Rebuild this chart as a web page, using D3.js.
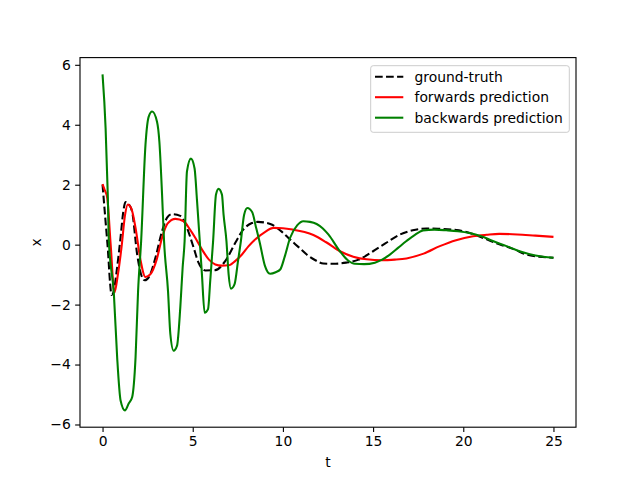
<!DOCTYPE html>
<html>
<head>
<meta charset="utf-8">
<script src="https://cdn.jsdelivr.net/npm/d3@7"></script>
<style>
  body { margin: 0; background: #fff; }
  svg { font-family: "DejaVu Sans", sans-serif; }
</style>
</head>
<body>
<script>
// ground truth
var tTruth = [0, 0.15, 0.3, 0.42, 0.5, 0.6, 0.8, 1.0, 1.15, 1.27, 1.45, 1.64, 1.92, 2.2, 2.34, 2.6, 2.93, 3.3, 3.58, 3.85, 4.31, 4.68, 5.05, 5.32, 5.7, 6.25, 6.8, 7.36, 7.8, 8.28, 8.6, 9.3, 9.9, 10.4, 10.9, 11.32, 11.8, 12.24, 12.8, 13.5, 14.2, 15.0, 15.7, 16.5, 17.2, 17.95, 18.6, 19.4, 20.0, 20.5, 21.2, 22.0, 22.8, 23.5, 24.2, 25]
var xTruth = [2.0, 0.9, -0.2, -1.3, -1.68, -1.6, -0.8, 0.25, 1.1, 1.42, 1.35, 1.1, -0.33, -1.1, -1.19, -1.05, -0.44, 0.45, 0.9, 1.02, 0.96, 0.56, -0.1, -0.6, -0.86, -0.85, -0.55, 0.06, 0.5, 0.72, 0.76, 0.69, 0.45, 0.17, -0.1, -0.33, -0.52, -0.63, -0.64, -0.6, -0.5, -0.22, 0.05, 0.34, 0.48, 0.54, 0.53, 0.5, 0.45, 0.36, 0.2, 0.01, -0.15, -0.33, -0.4, -0.44]

// forwards prediction
var tForward = [0, 0.1, 0.26, 0.45, 0.66, 0.85, 1.05, 1.25, 1.4, 1.6, 1.83, 2.1, 2.38, 2.65, 3.0, 3.3, 3.6, 4.04, 4.5, 4.85, 5.14, 5.5, 5.9, 6.25, 6.6, 6.99, 7.35, 7.73, 8.1, 8.46, 9.0, 9.48, 10.0, 10.58, 11.2, 11.69, 12.4, 13.16, 13.9, 14.64, 15.5, 16.2, 16.85, 17.8, 18.7, 19.6, 20.54, 21.3, 22.0, 23.0, 24.0, 25]
var xForward = [2.02, 1.85, 1.56, 0.0, -1.6, -1.0, -0.1, 1.0, 1.34, 1.2, 0.56, -0.5, -1.08, -0.99, -0.5, 0.23, 0.7, 0.86, 0.78, 0.5, 0.23, -0.15, -0.5, -0.66, -0.7, -0.69, -0.55, -0.33, -0.05, 0.17, 0.42, 0.56, 0.55, 0.5, 0.42, 0.32, 0.08, -0.22, -0.4, -0.49, -0.52, -0.5, -0.46, -0.3, -0.05, 0.15, 0.28, 0.33, 0.36, 0.34, 0.3, 0.26]

// backwards prediction
var tBackward = [0, 0.17, 0.29, 0.35, 0.63, 0.81, 1.0, 1.24, 1.45, 1.64, 1.83, 1.97, 2.14, 2.38, 2.56, 2.75, 3.02, 3.15, 3.3, 3.41, 3.63, 3.76, 3.94, 4.13, 4.31, 4.44, 4.55, 4.68, 4.9, 5.1, 5.24, 5.39, 5.51, 5.66, 5.85, 5.97, 6.13, 6.29, 6.43, 6.62, 6.71, 6.87, 6.99, 7.12, 7.32, 7.51, 7.67, 7.85, 8.03, 8.3, 8.5, 8.73, 9.0, 9.29, 9.6, 9.85, 10.1, 10.4, 10.8, 11.13, 11.5, 11.87, 12.2, 12.52, 13.16, 13.6, 13.99, 14.5, 15.1, 15.5, 15.93, 16.4, 16.85, 17.3, 17.77, 18.4, 19.06, 19.7, 20.35, 21.0, 21.64, 22.4, 23.12, 24.0, 25]
var xBackward = [5.68, 3.88, 1.67, 0.12, -1.66, -3.76, -5.2, -5.53, -5.3, -5.09, -3.76, -1.55, 0.12, 3.33, 4.27, 4.44, 4.1, 3.44, 1.67, 0.12, -1.55, -2.99, -3.54, -3.37, -2.1, -0.77, 0.12, 2.44, 2.87, 2.55, 1.45, 0.12, -0.99, -2.27, -2.15, -1.21, 0.12, 1.67, 1.86, 1.67, 1.0, 0.12, -0.99, -1.47, -1.32, -0.55, 0.12, 1.0, 1.22, 1.08, 0.6, 0.03, -0.7, -0.97, -0.92, -0.83, -0.4, 0.23, 0.65, 0.78, 0.76, 0.69, 0.55, 0.34, -0.22, -0.52, -0.64, -0.65, -0.6, -0.5, -0.33, -0.1, 0.12, 0.32, 0.47, 0.5, 0.48, 0.45, 0.39, 0.28, 0.12, -0.05, -0.22, -0.36, -0.44]

var xTicks = [0, 5, 10, 15, 20, 25]
var yTicks = [-6, -4, -2, 0, 2, 4, 6]
var labels = ['ground-truth', 'forwards prediction', 'backwards prediction']

var W = 640, H = 480
var mLeft = 80, mRight = 576, mTop = 57.6, mBottom = 427.2
var fs = 13.89, lw = 2.08, dash = '7.7,3.33'

var svg = d3.select(document.body).append('svg')
  .attr('width', W).attr('height', H)

var x = d3.scaleLinear().domain([-1.25, 26.25]).range([mLeft, mRight])
var yMin = d3.min(xBackward), yMax = d3.max(xBackward)
var pad = (yMax - yMin) * 0.05
var y = d3.scaleLinear().domain([yMin - pad, yMax + pad]).range([mBottom, mTop])

function series(ts, xs) {
  return ts.map(function(t, i) { return [t, xs[i]]; })
}

var line = d3.line()
  .x(function(d) { return x(d[0]); })
  .y(function(d) { return y(d[1]); })
  .curve(d3.curveMonotoneX)

var clip = svg.append('clipPath').attr('id', 'clip')
clip.append('rect').attr('x', mLeft).attr('y', mTop)
  .attr('width', mRight - mLeft).attr('height', mBottom - mTop)

var plot = svg.append('g').attr('clip-path', 'url(#clip)')

plot.append('path').datum(series(tTruth, xTruth))
  .attr('d', line).attr('fill', 'none')
  .attr('stroke', 'black').attr('stroke-width', lw)
  .attr('stroke-dasharray', dash)

plot.append('path').datum(series(tForward, xForward))
  .attr('d', line).attr('fill', 'none')
  .attr('stroke', '#ff0000').attr('stroke-width', lw)

plot.append('path').datum(series(tBackward, xBackward))
  .attr('d', line).attr('fill', 'none')
  .attr('stroke', '#008000').attr('stroke-width', lw)

// axes
svg.append('g').attr('transform', 'translate(0,' + mBottom + ')')
  .call(d3.axisBottom(x).tickValues(xTicks).tickSize(4.86).tickPadding(4.4))
svg.append('g').attr('transform', 'translate(' + mLeft + ',0)')
  .call(d3.axisLeft(y).tickValues(yTicks).tickSize(4.86).tickPadding(4.4))

svg.selectAll('.domain').remove()
svg.selectAll('.tick line').attr('stroke', 'black').attr('stroke-width', 1.11)
svg.selectAll('.tick text').attr('font-size', fs)
  .attr('font-family', '"DejaVu Sans", sans-serif').attr('fill', 'black')

svg.append('rect').attr('x', mLeft).attr('y', mTop)
  .attr('width', mRight - mLeft).attr('height', mBottom - mTop)
  .attr('fill', 'none').attr('stroke', 'black').attr('stroke-width', 1.11)

svg.append('text').attr('x', (mLeft + mRight) / 2).attr('y', 467)
  .attr('text-anchor', 'middle').attr('font-size', fs).text('t')
svg.append('text').attr('transform', 'translate(41,' + ((mTop + mBottom) / 2) + ') rotate(-90)')
  .attr('text-anchor', 'middle').attr('font-size', fs).text('x')

// legend
var lg = svg.append('g')
lg.append('rect').attr('x', 370.7).attr('y', 65.7)
  .attr('width', 198.6).attr('height', 66.6).attr('rx', 2.5)
  .attr('fill', 'white').attr('fill-opacity', 0.8)
  .attr('stroke', '#cccccc').attr('stroke-width', 1)

var styles = [
  { color: 'black', dash: dash },
  { color: '#ff0000', dash: null },
  { color: '#008000', dash: null }
]
labels.forEach(function(lab, i) {
  var yy = 76.7 + i * 20.5
  lg.append('line').attr('x1', 375).attr('x2', 403.3)
    .attr('y1', yy).attr('y2', yy)
    .attr('stroke', styles[i].color).attr('stroke-width', lw)
    .attr('stroke-dasharray', styles[i].dash)
  lg.append('text').attr('x', 414.5).attr('y', yy).attr('dy', '0.35em')
    .attr('font-size', fs).text(lab)
})
</script>
</body>
</html>
